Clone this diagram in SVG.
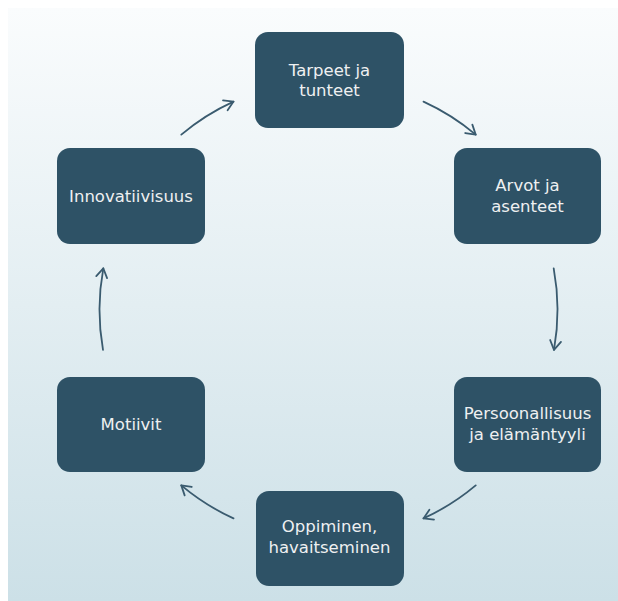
<svg xmlns="http://www.w3.org/2000/svg" width="618" height="601" viewBox="0 0 618 601">
<defs>
<linearGradient id="bg" x1="0" y1="0" x2="0" y2="1">
<stop offset="0" stop-color="#fafcfd"/>
<stop offset="1" stop-color="#cce0e7"/>
</linearGradient>
<marker id="ah" markerUnits="userSpaceOnUse" markerWidth="24" markerHeight="24" viewBox="-12 -12 24 24" refX="0" refY="0" orient="auto" overflow="visible">
<path d="M-9,-5.5 L0,0 L-9,5.5" fill="none" stroke="#3a5b6f" stroke-width="1.8" stroke-linecap="round" stroke-linejoin="round"/>
</marker>
<style>
.node rect{fill:#2e5266;}
.node text{fill:#eef0f1;font-family:"DejaVu Sans","Liberation Sans",sans-serif;font-size:16.5px;text-anchor:middle;}
.conn path{fill:none;stroke:#3a5b6f;stroke-width:1.8;stroke-linecap:round;marker-end:url(#ah);}
</style>
</defs>
<rect x="8" y="8" width="610" height="593" fill="url(#bg)"/>
<g id="connectors" class="conn">
<path d="M181.3,134.6 A229,229 0 0 1 233.5,101.6"/>
<path d="M423.5,101.6 A229,229 0 0 1 475.7,134.6"/>
<path d="M553.7,268.3 A229,229 0 0 1 554.0,349.8"/>
<path d="M475.7,485.4 A229,229 0 0 1 423.5,518.4"/>
<path d="M233.5,518.4 A229,229 0 0 1 181.3,485.4"/>
<path d="M103.0,349.8 A229,229 0 0 1 103.3,268.3"/>
</g>
<g id="node-tarpeet" class="node">
<rect x="255" y="32" width="149" height="96" rx="13"/>
<text x="329.5" y="75.5">Tarpeet ja</text>
<text x="329.5" y="96">tunteet</text>
</g>
<g id="node-arvot" class="node">
<rect x="454" y="148" width="147" height="96" rx="13"/>
<text x="527.5" y="191">Arvot ja</text>
<text x="527.5" y="211.5">asenteet</text>
</g>
<g id="node-persoonallisuus" class="node">
<rect x="454" y="377" width="147" height="95" rx="13"/>
<text x="527.5" y="419">Persoonallisuus</text>
<text x="527.5" y="439.5">ja elämäntyyli</text>
</g>
<g id="node-oppiminen" class="node">
<rect x="256" y="491" width="148" height="95" rx="13"/>
<text x="329.5" y="532">Oppiminen,</text>
<text x="329.5" y="552.5">havaitseminen</text>
</g>
<g id="node-motiivit" class="node">
<rect x="57" y="377" width="148" height="95" rx="13"/>
<text x="131" y="430">Motiivit</text>
</g>
<g id="node-innovatiivisuus" class="node">
<rect x="57" y="148" width="148" height="96" rx="13"/>
<text x="131" y="201.5">Innovatiivisuus</text>
</g>
</svg>
